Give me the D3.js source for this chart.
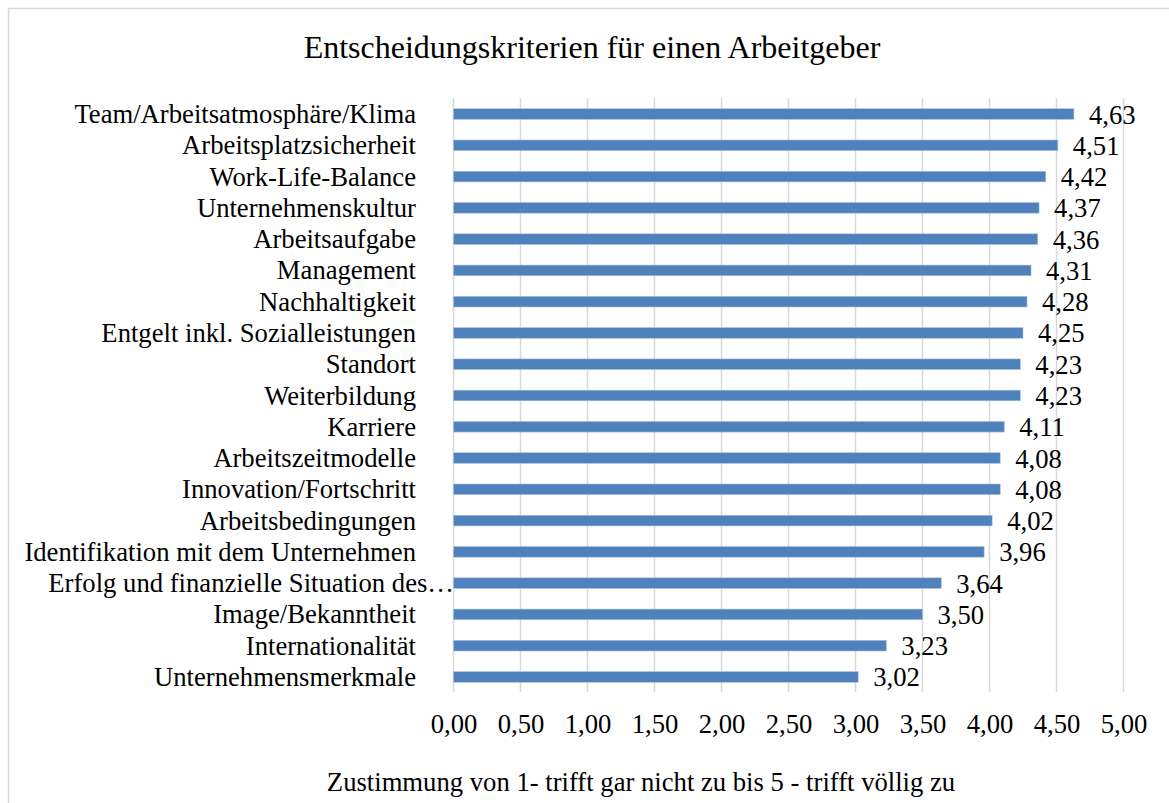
<!DOCTYPE html>
<html>
<head>
<meta charset="utf-8">
<script src="https://cdn.jsdelivr.net/npm/d3@7"></script>
<style>
  html, body { margin: 0; padding: 0; background: #fff; }
  svg { display: block; }
  text { font-family: "Liberation Serif", "Times New Roman", serif; fill: #000; }
</style>
</head>
<body>
<svg id="chart" width="1169" height="803"></svg>
<script>
const title = "Entscheidungskriterien für einen Arbeitgeber";
const axisTitle = "Zustimmung von 1- trifft gar nicht zu bis 5 - trifft völlig zu";
const categories = [
  "Team/Arbeitsatmosphäre/Klima",
  "Arbeitsplatzsicherheit",
  "Work-Life-Balance",
  "Unternehmenskultur",
  "Arbeitsaufgabe",
  "Management",
  "Nachhaltigkeit",
  "Entgelt inkl. Sozialleistungen",
  "Standort",
  "Weiterbildung",
  "Karriere",
  "Arbeitszeitmodelle",
  "Innovation/Fortschritt",
  "Arbeitsbedingungen",
  "Identifikation mit dem Unternehmen",
  "Erfolg und finanzielle Situation des…",
  "Image/Bekanntheit",
  "Internationalität",
  "Unternehmensmerkmale"
];
const values = [4.63, 4.51, 4.42, 4.37, 4.36, 4.31, 4.28, 4.25, 4.23, 4.23, 4.11, 4.08, 4.08, 4.02, 3.96, 3.64, 3.50, 3.23, 3.02];
const tickValues = [0, 0.5, 1, 1.5, 2, 2.5, 3, 3.5, 4, 4.5, 5];

const svg = d3.select("#chart");
const fmt = v => v.toFixed(2).replace(".", ",");
const fs = 26.67;

// outer chart border
svg.append("rect")
  .attr("x", 8.5).attr("y", 8.5)
  .attr("width", 1180).attr("height", 820)
  .attr("fill", "#fff").attr("stroke", "#d9d9d9").attr("stroke-width", 1.5);

const x = d3.scaleLinear().domain([0, 5]).range([453.5, 1123.5]);
const y = d3.scaleBand().domain(categories).range([98.4, 692.6]).paddingInner(0.66).paddingOuter(0.33);

// gridlines
svg.append("g").selectAll("line").data(tickValues).join("line")
  .attr("x1", d => x(d)).attr("x2", d => x(d))
  .attr("y1", 98).attr("y2", 692)
  .attr("stroke", "#d9d9d9").attr("stroke-width", 1.5);

// bars
svg.append("g").selectAll("rect").data(values).join("rect")
  .attr("x", x(0))
  .attr("y", (d, i) => y(categories[i]))
  .attr("width", d => x(d) - x(0))
  .attr("height", y.bandwidth())
  .attr("fill", "#4f81bd")
  .attr("stroke", "#a9c1df").attr("stroke-width", 0.6);

// data labels
svg.append("g").selectAll("text").data(values).join("text")
  .attr("x", d => x(d) + 15)
  .attr("y", (d, i) => y(categories[i]) + y.bandwidth() / 2 + 9.5)
  .attr("font-size", fs)
  .text(d => fmt(d));

// category labels
svg.append("g").selectAll("text").data(categories).join("text")
  .attr("x", d => d.endsWith("…") ? 454 : 416)
  .attr("y", d => y(d) + y.bandwidth() / 2 + 9)
  .attr("text-anchor", "end")
  .attr("font-size", fs)
  .text(d => d);

// x axis tick labels
const xAxis = d3.axisBottom(x).tickValues(tickValues).tickFormat(fmt).tickSize(0).tickPadding(0);
const ax = svg.append("g").attr("transform", "translate(0,714)").call(xAxis);
ax.select(".domain").remove();
ax.selectAll("text").attr("font-size", fs).attr("font-family", "Liberation Serif, Times New Roman, serif").attr("fill", "#000").attr("dy", null).attr("y", 19);

// title
svg.append("text")
  .attr("x", 592).attr("y", 58)
  .attr("text-anchor", "middle")
  .attr("font-size", 32)
  .text(title);

// axis title
svg.append("text")
  .attr("x", 641).attr("y", 791)
  .attr("text-anchor", "middle")
  .attr("font-size", fs)
  .text(axisTitle);
</script>
</body>
</html>
